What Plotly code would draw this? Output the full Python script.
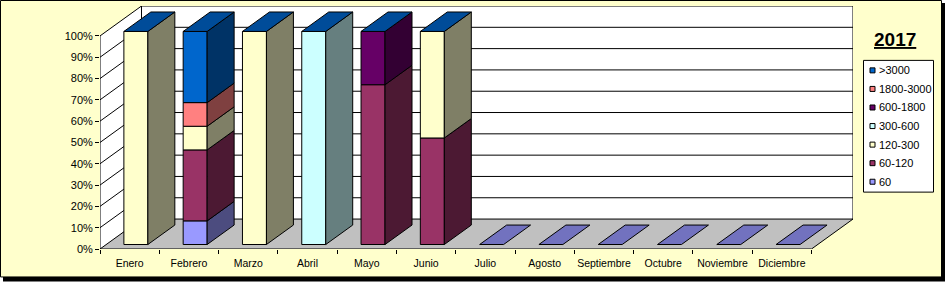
import plotly.graph_objects as go

# ---------------- data ----------------
months = ["Enero", "Febrero", "Marzo", "Abril", "Mayo", "Junio", "Julio",
          "Agosto", "Septiembre", "Octubre", "Noviembre", "Diciembre"]
series_names = ["60", "60-120", "120-300", "300-600", "600-1800", "1800-3000", ">3000"]
series_colors = ["#9999FF", "#993366", "#FFFFCC", "#CCFFFF", "#660066", "#FF8080", "#0066CC"]

s_60 = [0, 11.1, 0, 0, 0, 0, 0, 0, 0, 0, 0, 0]
s_60_120 = [0, 33.3, 0, 0, 75, 50, 0, 0, 0, 0, 0, 0]
s_120_300 = [100, 11.1, 100, 0, 0, 50, 0, 0, 0, 0, 0, 0]
s_300_600 = [0, 0, 0, 100, 0, 0, 0, 0, 0, 0, 0, 0]
s_600_1800 = [0, 0, 0, 0, 25, 0, 0, 0, 0, 0, 0, 0]
s_1800_3000 = [0, 11.1, 0, 0, 0, 0, 0, 0, 0, 0, 0, 0]
s_3000 = [0, 33.4, 0, 0, 0, 0, 0, 0, 0, 0, 0, 0]
series_values = [s_60, s_60_120, s_120_300, s_300_600, s_600_1800, s_1800_3000, s_3000]

y_ticks = [0, 10, 20, 30, 40, 50, 60, 70, 80, 90, 100]
title_text = "2017"

# ---------------- pseudo-3D geometry (axis units) ----------------
DX = 0.70      # depth offset in category units
DY = 14.05     # depth offset in percent units
ZF, ZB = 0.15, 0.80   # bar front / back depth fractions
BW = 0.4045    # bar width in category units
N = len(months)

FONT = "Arial, Liberation Sans, sans-serif"


def shade(hexc, f):
    h = hexc.lstrip("#")
    r, g, b = (int(h[i:i + 2], 16) for i in (0, 2, 4))
    return "#%02X%02X%02X" % (int(r * f), int(g * f), int(b * f))


fig = go.Figure()

# front faces (bars)
cum = [0.0] * N
fx = [i + 0.5 + ZF * DX for i in range(N)]
base0 = ZF * DY
seg_bounds = []
for name, col, vals in zip(series_names, series_colors, series_values):
    bases = [base0 + c for c in cum]
    fig.add_trace(go.Bar(
        x=fx, y=[v if v > 0 else None for v in vals], base=bases, width=BW,
        marker=dict(color=col, line=dict(color="black", width=1)),
        name=name, showlegend=False, hoverinfo="skip"))
    seg_bounds.append([(b, b + v, v) for b, v in zip(bases, vals)])
    cum = [c + v for c, v in zip(cum, vals)]

# side faces
ddx = (ZB - ZF) * DX
ddy = (ZB - ZF) * DY
for col, bounds in zip(series_colors, seg_bounds):
    xs, ys = [], []
    for i, (y0, y1, v) in enumerate(bounds):
        if v <= 0:
            continue
        xr = fx[i] + BW / 2
        xs += [xr, xr + ddx, xr + ddx, xr, xr, None]
        ys += [y0, y0 + ddy, y1 + ddy, y1, y0, None]
    if xs:
        fig.add_trace(go.Scatter(x=xs, y=ys, mode="lines", fill="toself",
                                 fillcolor=shade(col, 0.5),
                                 line=dict(color="black", width=1),
                                 showlegend=False, hoverinfo="skip"))

# top faces
top_groups = {}
for i in range(N):
    col = series_colors[-1] if cum[i] > 0 else series_colors[0]
    top_groups.setdefault(col, []).append(i)
for col, idxs in top_groups.items():
    xs, ys = [], []
    for i in idxs:
        T = base0 + cum[i]
        xl, xr = fx[i] - BW / 2, fx[i] + BW / 2
        xs += [xl, xr, xr + ddx, xl + ddx, xl, None]
        ys += [T, T, T + ddy, T + ddy, T, None]
    fig.add_trace(go.Scatter(x=xs, y=ys, mode="lines", fill="toself",
                             fillcolor=shade(col, 0.75),
                             line=dict(color="black", width=1),
                             showlegend=False, hoverinfo="skip"))

# ---------------- walls / floor / grid as shapes ----------------
shapes = []

# pixel helpers for frame & legend
PL, PT, PW, PH = 100, 6, 753, 243.5


def pxx(x):
    return (x - PL) / PW


def pxy(y):
    return (PT + PH - y) / PH


shapes.append(dict(type="rect", xref="paper", yref="paper", layer="below",
                   x0=pxx(3), x1=pxx(945), y0=pxy(3), y1=pxy(282),
                   fillcolor="black", line=dict(width=0)))
shapes.append(dict(type="rect", xref="paper", yref="paper", layer="below",
                   x0=pxx(0.5), x1=pxx(941.5), y0=pxy(0.5), y1=pxy(277.5),
                   fillcolor="#FFFFCC", line=dict(color="black", width=1)))


def poly(pts, fill, lw=0, lc="black"):
    path = "M " + " L ".join(f"{x},{y}" for x, y in pts) + " Z"
    return dict(type="path", xref="x", yref="y", layer="below", path=path,
                fillcolor=fill, line=dict(color=lc, width=lw))


def seg(x0, y0, x1, y1):
    return dict(type="line", xref="x", yref="y", layer="below",
                x0=x0, y0=y0, x1=x1, y1=y1, line=dict(color="black", width=1))


top = y_ticks[-1]
shapes.append(poly([(0, 0), (0, top), (DX, top + DY), (DX, DY)], "white"))
shapes.append(poly([(DX, DY), (DX, top + DY), (N + DX, top + DY), (N + DX, DY)], "white"))
shapes.append(poly([(0, 0), (N, 0), (N + DX, DY), (DX, DY)], "#C0C0C0"))
for v in y_ticks:
    shapes.append(seg(0, v, DX, v + DY))
    shapes.append(seg(DX, v + DY, N + DX, v + DY))
shapes.append(seg(0, 0, 0, top))
shapes.append(seg(0, 0, N, 0))
shapes.append(seg(N, 0, N + DX, DY))
shapes.append(seg(DX, DY, DX, top + DY))
shapes.append(seg(N + DX, DY, N + DX, top + DY))

# ---------------- legend (custom) ----------------
annotations = []
shapes.append(dict(type="rect", xref="paper", yref="paper", layer="above",
                   x0=pxx(863.5), x1=pxx(933.5), y0=pxy(60.5), y1=pxy(192.5),
                   fillcolor="white", line=dict(color="black", width=1)))
for k, (name, col) in enumerate(zip(series_names[::-1], series_colors[::-1])):
    cy = 70.5 + k * 18.6
    shapes.append(dict(type="rect", xref="paper", yref="paper", layer="above",
                       x0=pxx(870), x1=pxx(875), y0=pxy(cy - 2.5), y1=pxy(cy + 2.5),
                       fillcolor=col, line=dict(color="black", width=1)))
    annotations.append(dict(xref="paper", yref="paper", x=pxx(877), y=pxy(cy),
                            xanchor="left", yanchor="middle", showarrow=False,
                            text=name, font=dict(family=FONT, size=11, color="black")))
annotations.append(dict(xref="paper", yref="paper", x=pxx(895), y=pxy(39.5),
                        xanchor="center", yanchor="middle", showarrow=False,
                        text=f"<u><b>{title_text}</b></u>",
                        font=dict(family=FONT, size=19, color="black")))

fig.update_layout(
    width=945, height=282,
    margin=dict(l=PL, r=945 - PL - PW, t=PT, b=282 - PT - PH, pad=0),
    paper_bgcolor="white", plot_bgcolor="rgba(0,0,0,0)",
    barmode="overlay", showlegend=False,
    shapes=shapes, annotations=annotations,
    font=dict(family=FONT, color="black"),
    xaxis=dict(range=[0, N + DX], tickmode="array",
               tickvals=[i + 0.5 for i in range(N)], ticktext=months,
               ticks="", showgrid=False, zeroline=False, showline=False,
               tickfont=dict(size=10.5, family=FONT, color="black"),
               ticklabelstandoff=6,
               minor=dict(tickmode="array", tickvals=list(range(N + 1)),
                          ticks="outside", ticklen=4, tickcolor="black",
                          tickwidth=1, showgrid=False),
               fixedrange=True),
    yaxis=dict(range=[0, top + DY], tickmode="array", tickvals=y_ticks,
               ticktext=[f"{v}%" for v in y_ticks],
               ticks="outside", ticklen=4, tickcolor="black", tickwidth=1,
               showgrid=False, zeroline=False, showline=False,
               tickfont=dict(size=11, family=FONT, color="black"),
               fixedrange=True),
)

fig.write_html("out.html")
